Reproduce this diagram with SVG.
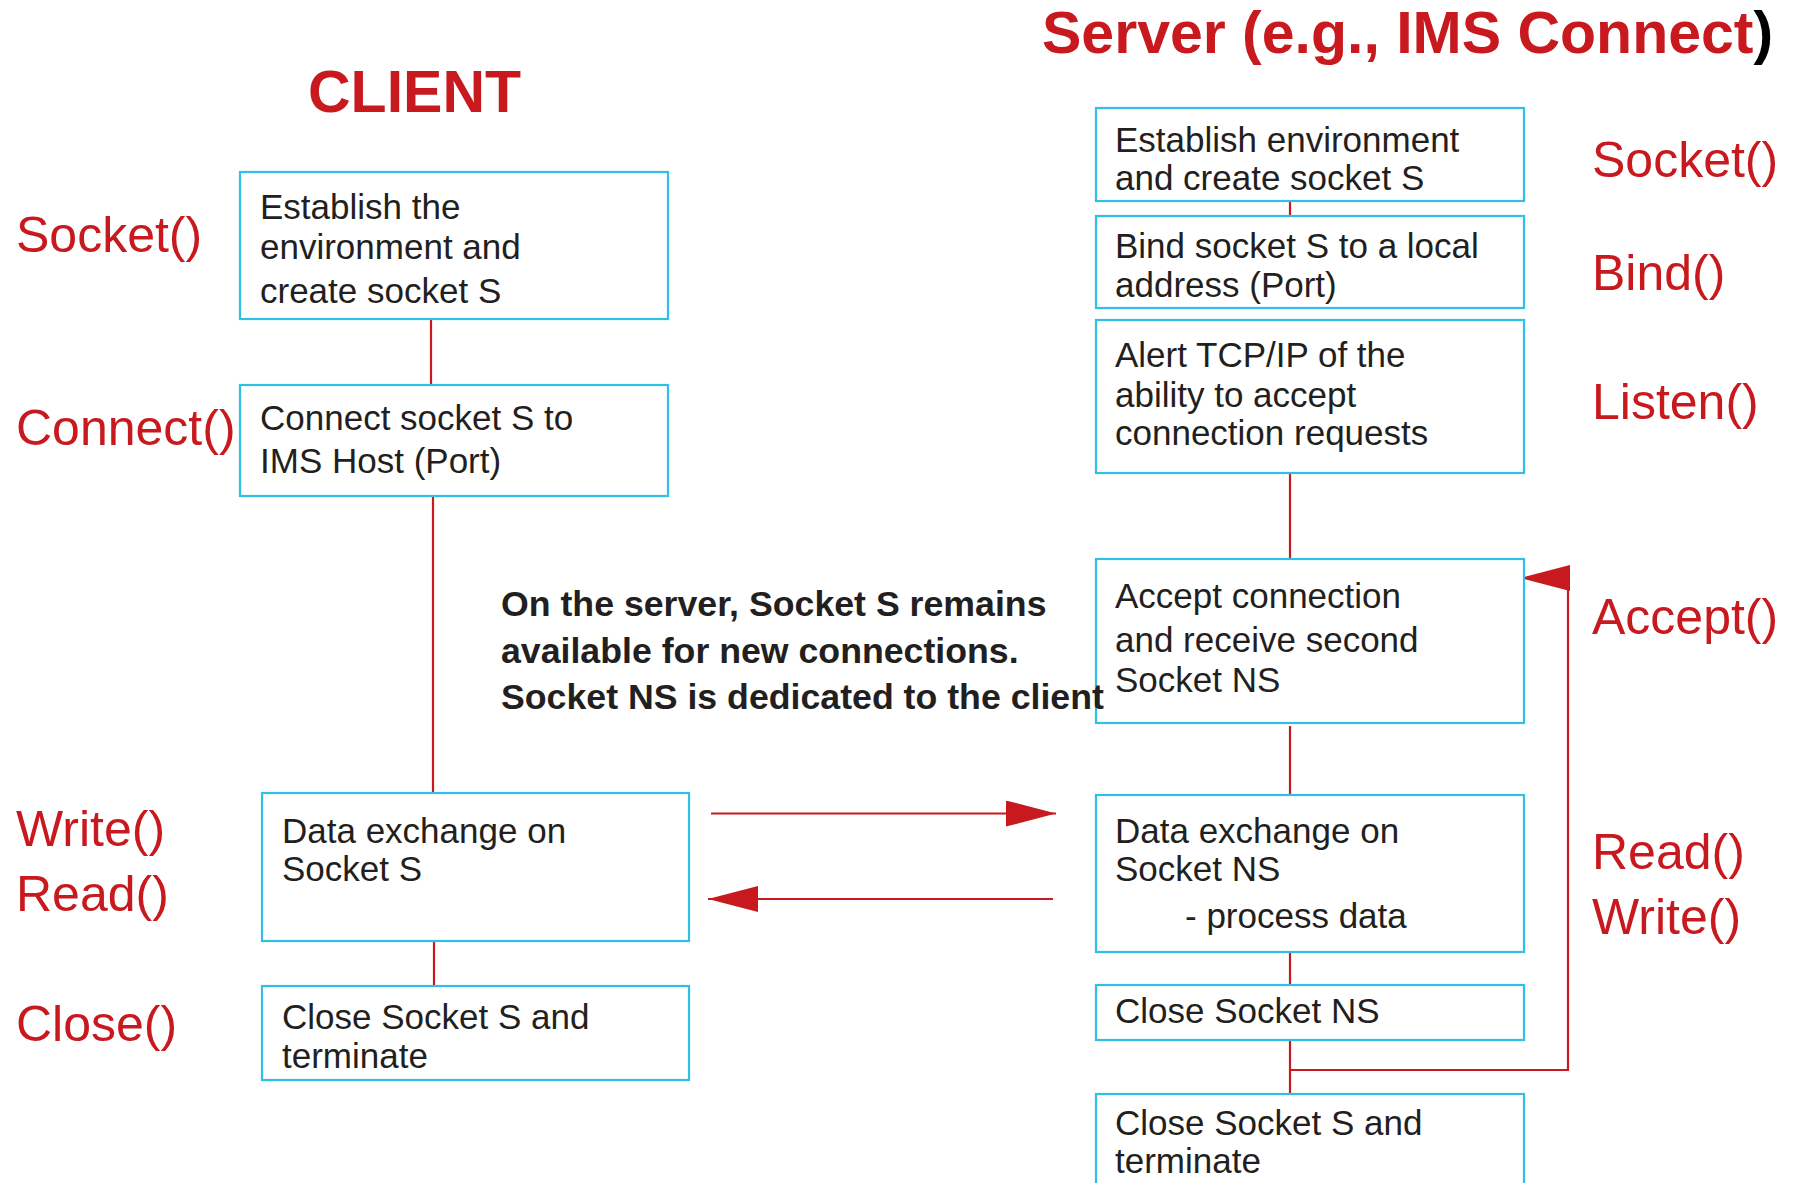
<svg xmlns="http://www.w3.org/2000/svg" width="1797" height="1183" viewBox="0 0 1797 1183">
<style>
  text { font-family: "Liberation Sans", Arial, sans-serif; }
  .box { fill: #ffffff; stroke: #2ec0e6; stroke-width: 2.2; }
  .t { font-size: 35px; fill: #231f20; }
  .lbl { font-size: 50px; fill: #c8191e; }
  .title { font-size: 59px; font-weight: bold; fill: #c8191e; }
  .note { font-size: 35.7px; font-weight: bold; fill: #231f20; }
  .conn { stroke: #c8191e; stroke-width: 2.2; fill: none; }
</style>
<defs>
  <marker id="ah" viewBox="0 0 50 26" markerWidth="50" markerHeight="26" refX="50" refY="13" orient="auto" markerUnits="userSpaceOnUse">
    <path d="M0,0 L50,13 L0,26 Z" fill="#c8191e"/>
  </marker>
</defs>
<rect width="1797" height="1183" fill="#ffffff"/>

<text class="title" x="308" y="112">CLIENT</text>
<text class="title" x="1042" y="53">Server (e.g., IMS Connect<tspan fill="#000000">)</tspan></text>

<g id="connectors">
  <line class="conn" x1="431" y1="316" x2="431" y2="385"/>
  <line class="conn" x1="433" y1="496" x2="433" y2="793"/>
  <line class="conn" x1="434" y1="941" x2="434" y2="986"/>
  <line class="conn" x1="1290" y1="193" x2="1290" y2="216"/>
  <line class="conn" x1="1290" y1="470" x2="1290" y2="559"/>
  <line class="conn" x1="1290" y1="726" x2="1290" y2="795"/>
  <line class="conn" x1="1290" y1="942" x2="1290" y2="985"/>
  <line class="conn" x1="1290" y1="1027" x2="1290" y2="1094"/>
  <polyline class="conn" points="1290,1070 1568,1070 1568,578 1520,578" marker-end="url(#ah)"/>
  <line class="conn" x1="711" y1="813.5" x2="1056" y2="813.5" marker-end="url(#ah)"/>
  <line class="conn" x1="1053" y1="899" x2="708" y2="899" marker-end="url(#ah)"/>
</g>

<g id="client-socket">
  <rect class="box" x="240" y="172" width="428" height="147"/>
  <text class="t"><tspan x="260" y="219">Establish the</tspan><tspan x="260" y="259">environment and</tspan><tspan x="260" y="303">create socket S</tspan></text>
</g>
<g id="client-connect">
  <rect class="box" x="240" y="385" width="428" height="111"/>
  <text class="t"><tspan x="260" y="430">Connect socket S to</tspan><tspan x="260" y="473">IMS Host (Port)</tspan></text>
</g>
<g id="client-data">
  <rect class="box" x="262" y="793" width="427" height="148"/>
  <text class="t"><tspan x="282" y="843">Data exchange on</tspan><tspan x="282" y="881">Socket S</tspan></text>
</g>
<g id="client-close">
  <rect class="box" x="262" y="986" width="427" height="94"/>
  <text class="t"><tspan x="282" y="1029">Close Socket S and</tspan><tspan x="282" y="1068">terminate</tspan></text>
</g>

<g id="server-socket">
  <rect class="box" x="1096" y="108" width="428" height="93"/>
  <text class="t"><tspan x="1115" y="152">Establish environment</tspan><tspan x="1115" y="190">and create socket S</tspan></text>
</g>
<g id="server-bind">
  <rect class="box" x="1096" y="216" width="428" height="92"/>
  <text class="t"><tspan x="1115" y="258">Bind socket S to a local</tspan><tspan x="1115" y="297">address (Port)</tspan></text>
</g>
<g id="server-listen">
  <rect class="box" x="1096" y="320" width="428" height="153"/>
  <text class="t"><tspan x="1115" y="367">Alert TCP/IP of the</tspan><tspan x="1115" y="407">ability to accept</tspan><tspan x="1115" y="445">connection requests</tspan></text>
</g>
<g id="server-accept">
  <rect class="box" x="1096" y="559" width="428" height="164"/>
  <text class="t"><tspan x="1115" y="608">Accept connection</tspan><tspan x="1115" y="652">and receive second</tspan><tspan x="1115" y="692">Socket NS</tspan></text>
</g>
<g id="server-data">
  <rect class="box" x="1096" y="795" width="428" height="157"/>
  <text class="t"><tspan x="1115" y="843">Data exchange on</tspan><tspan x="1115" y="881">Socket NS</tspan><tspan x="1185" y="928">- process data</tspan></text>
</g>
<g id="server-close-ns">
  <rect class="box" x="1096" y="985" width="428" height="55"/>
  <text class="t" x="1115" y="1023">Close Socket NS</text>
</g>
<g id="server-close-s">
  <rect class="box" x="1096" y="1094" width="428" height="120"/>
  <text class="t"><tspan x="1115" y="1135">Close Socket S and</tspan><tspan x="1115" y="1173">terminate</tspan></text>
</g>

<g id="client-labels">
  <text class="lbl" x="16" y="252">Socket()</text>
  <text class="lbl" x="16" y="445">Connect()</text>
  <text class="lbl" x="16" y="846">Write()</text>
  <text class="lbl" x="16" y="911">Read()</text>
  <text class="lbl" x="16" y="1041">Close()</text>
</g>
<g id="server-labels">
  <text class="lbl" x="1592" y="177">Socket()</text>
  <text class="lbl" x="1592" y="290">Bind()</text>
  <text class="lbl" x="1592" y="419">Listen()</text>
  <text class="lbl" x="1592" y="634">Accept()</text>
  <text class="lbl" x="1592" y="869">Read()</text>
  <text class="lbl" x="1592" y="934">Write()</text>
</g>

<g id="note">
  <text class="note"><tspan x="501" y="616">On the server, Socket S remains</tspan><tspan x="501" y="663">available for new connections.</tspan><tspan x="501" y="709">Socket NS is dedicated to the client</tspan></text>
</g>
</svg>
